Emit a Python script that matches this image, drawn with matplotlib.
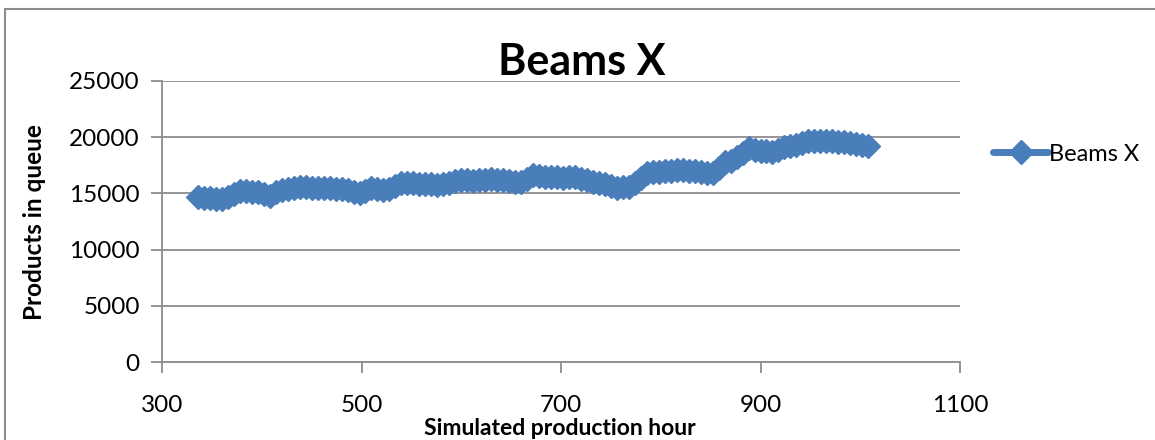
import numpy as np
import matplotlib.pyplot as plt
from matplotlib.lines import Line2D
from matplotlib.patches import Rectangle

plt.rcParams['font.family'] = ['Lato', 'DejaVu Sans']

# simulated hours, one sample every 6 h (336 .. 1008)
hours = np.arange(336, 1009, 6)
queue = [
    14700, 14600, 14570, 14530, 14500, 14650, 14950, 15200, 15200, 15150,
    15100, 14950, 14800, 15100, 15300, 15400, 15500, 15600, 15550, 15500,
    15450, 15450, 15450, 15400, 15400, 15300, 15150, 15050, 15250, 15450,
    15400, 15300, 15400, 15700, 15950, 15950, 15900, 15850, 15850, 15800,
    15750, 15800, 15950, 16100, 16150, 16150, 16120, 16150, 16200, 16280,
    16200, 16150, 16100, 16050, 16000, 16300, 16600, 16550, 16500, 16450,
    16420, 16400, 16480, 16450, 16300, 16150, 16050, 15900, 15800, 15650,
    15500, 15550, 15600, 15950, 16400, 16850, 16900, 16900, 16950, 17000,
    17100, 17050, 17000, 16950, 16900, 16800, 16800, 17300, 17750, 17900,
    18200, 18600, 19000, 18850, 18800, 18750, 18700, 18900, 19100, 19250,
    19350, 19500, 19650, 19700, 19700, 19700, 19650, 19600, 19550, 19500,
    19400, 19350, 19250,
]
x_ticks = [300, 500, 700, 900, 1100]
y_ticks = [0, 5000, 10000, 15000, 20000, 25000]

blue = '#4a7ebb'
grey = '#8c8c8c'

fig = plt.figure(figsize=(11.55, 4.4), dpi=100)
fig.patches.append(Rectangle((5 / 1155, -0.1), 1.2, (440 - 9) / 440 + 0.1,
                             transform=fig.transFigure, fill=False,
                             edgecolor=grey, linewidth=1.5))

ax = fig.add_axes([162 / 1155, 78 / 440, 798 / 1155, 281 / 440])
ax.plot(hours, queue, color=blue, linewidth=8, marker='D', markersize=12,
        markeredgecolor=blue, solid_joinstyle='round')

ax.set_xlim(300, 1100)
ax.set_ylim(0, 25000)
ax.set_xticks(x_ticks)
ax.set_yticks(y_ticks)
ax.grid(axis='y', color=grey, linewidth=1.3)
ax.set_axisbelow(True)

for side in ['top', 'right']:
    ax.spines[side].set_visible(False)
for side in ['left', 'bottom']:
    ax.spines[side].set_color(grey)
    ax.spines[side].set_linewidth(1.3)
ax.tick_params(axis='both', colors=grey, length=8, width=1.3,
               labelcolor='black', labelsize=17.5)
ax.tick_params(axis='x', pad=16)
ax.tick_params(axis='y', pad=8)

fig.text(582 / 1155, 1 - 62 / 440, 'Beams X', fontsize=31, fontweight='bold',
         ha='center', va='center')
fig.text(560 / 1155, 1 - 428 / 440, 'Simulated production hour', fontsize=16.5,
         fontweight='bold', ha='center', va='center')
fig.text(35 / 1155, 1 - 222 / 440, 'Products in queue', fontsize=17.5,
         fontweight='bold', ha='center', va='center', rotation=90)

# legend entry with a thinner line, like a series key
key = Line2D([], [], color=blue, linewidth=5, marker='D', markersize=12,
             markeredgecolor=blue, solid_capstyle='round')
ax.legend([key], ['Beams X'], loc='center left', bbox_to_anchor=(1.03, 0.74),
          frameon=False, fontsize=17, handlelength=2.3, handletextpad=0.05,
          borderaxespad=0)

fig.savefig('out.png', dpi=100)
